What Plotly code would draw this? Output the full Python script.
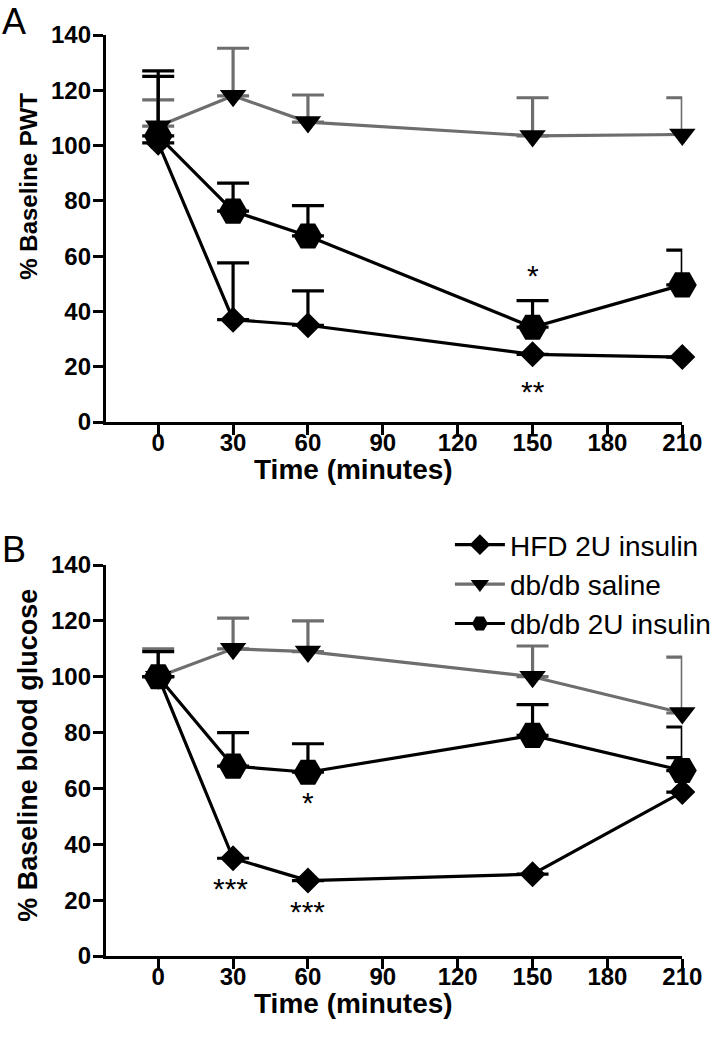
import plotly.graph_objects as go

# ---------------- data ----------------
time = [0, 30, 60, 150, 210]
x_ticks = [0, 30, 60, 90, 120, 150, 180, 210]
y_ticks = [0, 20, 40, 60, 80, 100, 120, 140]

series_names = ["HFD 2U insulin", "db/db saline", "db/db 2U insulin"]

# Panel A: % Baseline PWT (mean, upper SEM)
a_hfd = [101, 37, 35, 24.5, 23.5]
a_hfd_err = [26, 20.6, 12.4, 0, 0]
a_saline = [107, 118, 108.5, 103.5, 104]
a_saline_err = [9.5, 17.2, 9.8, 13.8, 13.3]
a_ins = [103.5, 76.3, 67.3, 34.3, 49.6]
a_ins_err = [21.5, 10.1, 11.0, 9.6, 12.6]

# Panel B: % Baseline blood glucose (mean, upper SEM)
b_hfd = [100, 35, 27, 29.3, 58.7]
b_hfd_err = [0, 0, 0, 0, 12.3]
b_saline = [100, 110, 109, 100, 87]
b_saline_err = [10, 11, 11, 11, 20]
b_ins = [100, 68, 65.8, 79, 66.4]
b_ins_err = [9, 12, 10.2, 11, 15.6]

# significance marks: (x, y, text)
a_marks = [(150, 53, "*"), (150, 11, "**")]
b_marks = [(60, 55, "*"), (29, 24, "***"), (60, 16, "***")]

BLACK = "#000000"
GRAY = "#6e6e6e"
FONT = "Liberation Sans, Arial, sans-serif"

W, H = 716, 1050


def px(xp):
    return xp / W


def py(yp):
    return 1 - yp / H


fig = go.Figure()


def add_panel(xa, ya, hfd, hfd_e, sal, sal_e, ins, ins_e, legend):
    specs = [
        (series_names[0], hfd, hfd_e, BLACK, "diamond", 20),
        (series_names[1], sal, sal_e, GRAY, "triangle-down", 23),
        (series_names[2], ins, ins_e, BLACK, "hexagon2", 29),
    ]
    for name, y, e, col, sym, sz in specs:
        fig.add_trace(go.Scatter(
            x=time, y=y, name=name, mode="lines+markers",
            xaxis=xa, yaxis=ya, showlegend=legend, cliponaxis=False,
            line=dict(color=col, width=3.2),
            marker=dict(symbol=sym, size=sz, color=BLACK,
                        line=dict(width=0)),
            error_y=dict(type="data", symmetric=False, array=e,
                         arrayminus=[0] * len(e), color=col,
                         thickness=3.2, width=16),
        ))


add_panel("x", "y", a_hfd, a_hfd_err, a_saline, a_saline_err, a_ins, a_ins_err, False)
add_panel("x2", "y2", b_hfd, b_hfd_err, b_saline, b_saline_err, b_ins, b_ins_err, True)

x_dom = [px(107), px(690)]
ya_dom = [py(422), py(35)]
yb_dom = [py(956), py(565)]

axis_common = dict(
    showline=True, linewidth=3, linecolor=BLACK, automargin=False,
    ticks="outside", ticklen=10, tickwidth=3, tickcolor=BLACK,
    showgrid=False, zeroline=False,
    tickfont=dict(family=FONT, size=24, color=BLACK, weight="bold"),
)

xaxis_cfg = dict(axis_common, range=[-21, 210], tickmode="array",
                 tickvals=x_ticks, ticktext=[str(v) for v in x_ticks],
                 domain=x_dom, ticklabelstandoff=-13)
yaxis_cfg = dict(axis_common, range=[0, 140], tickmode="array",
                 tickvals=y_ticks, ticktext=[str(v) for v in y_ticks],
                 ticklabelstandoff=-3)

annotations = []
for mx, my, txt in a_marks:
    annotations.append(dict(x=mx, y=my, xref="x", yref="y", text=txt,
                            showarrow=False,
                            font=dict(family=FONT, size=30, color=BLACK)))
for mx, my, txt in b_marks:
    annotations.append(dict(x=mx, y=my, xref="x2", yref="y2", text=txt,
                            showarrow=False,
                            font=dict(family=FONT, size=30, color=BLACK)))

# panel letters
for letter, yy in (("A", 22), ("B", 549)):
    annotations.append(dict(x=px(0), y=py(yy), xref="paper", yref="paper",
                            text=letter, showarrow=False,
                            xanchor="left", yanchor="middle",
                            font=dict(family=FONT, size=36, color=BLACK)))


def title_font(size):
    return dict(family=FONT, size=size, color=BLACK, weight="bold")


# axis titles
annotations.append(dict(x=px(28), y=py(186), xref="paper", yref="paper",
                        text="% Baseline PWT", textangle=-90, showarrow=False,
                        xanchor="center", yanchor="middle", font=title_font(24)))
annotations.append(dict(x=px(28), y=py(755), xref="paper", yref="paper",
                        text="% Baseline blood glucose", textangle=-90,
                        showarrow=False, xanchor="center", yanchor="middle",
                        font=title_font(27)))
annotations.append(dict(x=px(357), y=py(469), xref="paper", yref="paper",
                        text="Time (minutes)", showarrow=False,
                        xanchor="center", yanchor="middle", font=title_font(28)))
annotations.append(dict(x=px(357), y=py(1003), xref="paper", yref="paper",
                        text="Time (minutes)", showarrow=False,
                        xanchor="center", yanchor="middle", font=title_font(28)))

fig.update_layout(
    width=W, height=H,
    margin=dict(l=0, r=0, t=0, b=0),
    paper_bgcolor="white", plot_bgcolor="white",
    xaxis=dict(xaxis_cfg, anchor="y"),
    yaxis=dict(yaxis_cfg, domain=ya_dom, anchor="x"),
    xaxis2=dict(xaxis_cfg, anchor="y2"),
    yaxis2=dict(yaxis_cfg, domain=yb_dom, anchor="x2"),
    showlegend=True,
    legend=dict(x=px(455), y=py(520), xanchor="left", yanchor="top",
                bgcolor="rgba(0,0,0,0)", itemwidth=50,
                font=dict(family=FONT, size=28, color=BLACK),
                tracegroupgap=0, itemsizing="trace"),
    annotations=annotations,
)

fig.write_html(
    "out.html",
    config={"displayModeBar": False},
    post_script="document.body.style.margin='0';"
                "document.body.style.overflow='hidden';",
)
